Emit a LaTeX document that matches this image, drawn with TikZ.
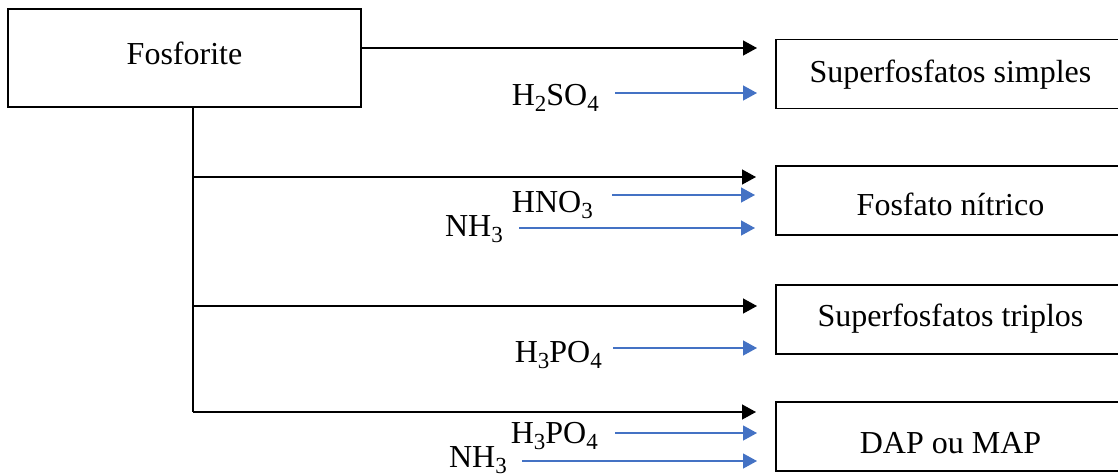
\documentclass[tikz,border=0pt]{standalone}
\usepackage{fontspec}
\setmainfont{Liberation Serif}
\usetikzlibrary{arrows.meta}
\definecolor{feedblue}{HTML}{4472C4}
\newcommand\diagfont{\fontsize{32}{38}\selectfont}
% chemical subscript: smaller and dropped below the baseline
\newcommand\chemsub[1]{\raisebox{-0.2em}{\fontsize{23}{26}\selectfont #1}}
\tikzset{
  box/.style={draw, line width=1.9pt, inner sep=0pt, text depth=0pt, font=\diagfont},
  product/.style={box, minimum width=349pt, minimum height=69pt},
  reagent/.style={inner sep=0pt, anchor=base east, font=\diagfont},
  trunk/.style={line width=1.4pt},
  flow/.style={line width=1.3pt, -{Triangle[length=14pt,width=15pt]}},
  feed/.style={line width=1.3pt, feedblue, -{Triangle[length=14pt,width=15pt]}}
}
\begin{document}
\begin{tikzpicture}[x=1pt,y=-1pt]
  \clip (0,0) rectangle (1118,475);
  \useasboundingbox (0,0) rectangle (1118,475);

  % source and products
  \node[box, minimum width=353pt, minimum height=98pt, text height=12pt] (fos) at (184.5,58) {Fosforite};
  \node[product, text height=16pt] (simples) at (950.5,74) {Superfosfatos simples};
  \node[product, text height=29pt] (nitrico) at (950.5,200.5) {Fosfato nítrico};
  \node[product, text height=14pt] (triplos) at (950.5,319.5) {Superfosfatos triplos};
  \node[product, text height=33pt] (dap) at (950.5,436.5) {DAP ou MAP};

  % reagents
  \node[reagent] (h2so4) at (599,105) {H\chemsub{2}SO\chemsub{4}};
  \node[reagent] (hno3) at (593,212) {HNO\chemsub{3}};
  \node[reagent] (nh3a) at (503,236) {NH\chemsub{3}};
  \node[reagent] (h3po4a) at (602,362) {H\chemsub{3}PO\chemsub{4}};
  \node[reagent] (h3po4b) at (598,443) {H\chemsub{3}PO\chemsub{4}};
  \node[reagent] (nh3b) at (507,467) {NH\chemsub{3}};

  % branch points on the trunk and arrow ends
  \coordinate (top) at ([xshift=8.5pt]fos.south);
  \coordinate (b2) at (193,177);
  \coordinate (b3) at (193,306);
  \coordinate (b4) at (193,412);
  \coordinate (e1) at (757,48);
  \coordinate (e2) at (756,177);
  \coordinate (e3) at (757,306);
  \coordinate (e4) at (756,412);

  % feed arrow starts and ends
  \coordinate (s1) at (615,93);   \coordinate (f1) at (757,93);
  \coordinate (s2) at (612,195);  \coordinate (f2) at (755,195);
  \coordinate (s3) at (519,228);  \coordinate (f3) at (755,228);
  \coordinate (s4) at (613,348);  \coordinate (f4) at (757,348);
  \coordinate (s5) at (615,433);  \coordinate (f5) at (757,433);
  \coordinate (s6) at (522,461);  \coordinate (f6) at (757,461);

  % trunk and branches
  \draw[trunk] (top) -- (b4);
  \draw[flow] (fos.east |- e1) -- (e1);
  \draw[flow] (b2) -- (e2);
  \draw[flow] (b3) -- (e3);
  \draw[flow] (b4) -- (e4);

  % reagent feeds
  \draw[feed] (s1) -- (f1);
  \draw[feed] (s2) -- (f2);
  \draw[feed] (s3) -- (f3);
  \draw[feed] (s4) -- (f4);
  \draw[feed] (s5) -- (f5);
  \draw[feed] (s6) -- (f6);
\end{tikzpicture}
\end{document}
